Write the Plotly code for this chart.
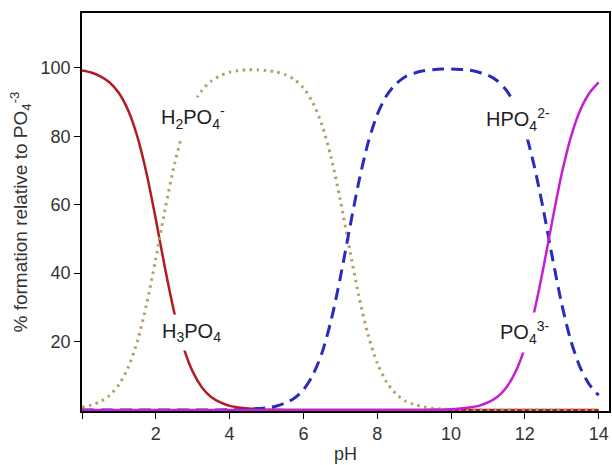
import plotly.graph_objects as go

# pH grid
ph = [i * 0.25 for i in range(57)]

# % of total phosphate present as each species
h3po4 = [99.2, 98.6, 97.5, 95.7, 92.6, 87.6, 79.9, 69.1, 55.7, 41.4, 28.5, 18.3,
         11.2, 6.6, 3.8, 2.2, 1.2, 0.7, 0.4, 0.2, 0.1, 0.1] + [0] * 35
h2po4 = [0.8, 1.4, 2.5, 4.3, 7.4, 12.4, 20.1, 30.9, 44.3, 58.6, 71.5, 81.7,
         88.8, 93.4, 96.1, 97.7, 98.7, 99.2, 99.4, 99.4, 99.2, 98.8, 98.0, 96.6,
         94.1, 89.9, 83.4, 73.8, 61.3, 47.1, 33.4, 22.0, 13.7, 8.2, 4.8, 2.7,
         1.6, 0.9, 0.5, 0.3, 0.2, 0.1, 0.1] + [0] * 14
hpo4 = [0] * 16 + [0.1, 0.1, 0.2, 0.4, 0.6, 1.1, 2.0, 3.4, 5.9, 10.1, 16.6, 26.2,
                   38.7, 52.9, 66.6, 78.0, 86.3, 91.8, 95.2, 97.3, 98.4, 99.1, 99.4,
                   99.6, 99.6, 99.5, 99.3, 98.7, 97.8, 96.2, 93.4, 88.8, 81.7, 71.5,
                   58.6, 44.3, 30.9, 20.1, 12.4, 7.4, 4.3]
po4 = [0] * 36 + [0, 0, 0.1, 0.1, 0.2, 0.4, 0.7, 1.2, 2.2, 3.8, 6.6, 11.2, 18.3,
                  28.5, 41.4, 55.7, 69.1, 79.9, 87.6, 92.6, 95.7]

x_ticks = [0, 2, 4, 6, 8, 10, 12, 14]
x_tick_text = ["", "2", "4", "6", "8", "10", "12", "14"]
y_ticks = [20, 40, 60, 80, 100]

# species labels: text, pH, % position
labels = [
    ("H<sub>2</sub>PO<sub>4</sub><sup>-</sup>", 3.0, 85.5),
    ("H<sub>3</sub>PO<sub>4</sub>", 2.97, 22.5),
    ("HPO<sub>4</sub><sup>2-</sup>", 11.82, 85.0),
    ("PO<sub>4</sub><sup>3-</sup>", 12.0, 22.5),
]

FONT = "Liberation Sans, Arial, sans-serif"

fig = go.Figure()
fig.add_trace(go.Scatter(x=ph, y=h3po4, mode="lines",
                         line=dict(color="#b31b22", width=2.5, shape="spline", smoothing=0.8)))
fig.add_trace(go.Scatter(x=ph, y=h2po4, mode="lines",
                         line=dict(color="#b3a062", width=3, dash="2.5px,4.5px",
                                   shape="spline", smoothing=0.8)))
fig.add_trace(go.Scatter(x=ph, y=hpo4, mode="lines",
                         line=dict(color="#2a2abf", width=3, dash="12px,7px",
                                   shape="spline", smoothing=0.8)))
fig.add_trace(go.Scatter(x=ph, y=po4, mode="lines",
                         line=dict(color="#c41fd2", width=2.5, shape="spline", smoothing=0.8)))

for text, xv, yv in labels:
    fig.add_annotation(x=xv, y=yv, text=text, showarrow=False,
                       bgcolor="white", borderpad=5,
                       font=dict(family=FONT, size=20, color="#222222"))

fig.update_layout(
    width=612, height=465,
    margin=dict(l=82, r=1, t=13, b=54),
    paper_bgcolor="white", plot_bgcolor="white",
    showlegend=False,
    font=dict(family=FONT, size=18, color="#333333"),
)
fig.update_xaxes(
    range=[0, 14.28], tickvals=x_ticks, ticktext=x_tick_text,
    ticks="outside", ticklen=6, tickwidth=1.2, tickcolor="black",
    showline=True, linecolor="black", linewidth=1.5, mirror=True,
    showgrid=False, zeroline=False, layer="below traces",
    title=dict(text="pH", font=dict(size=18), standoff=4),
)
fig.update_yaxes(
    range=[-0.3, 116], tickvals=y_ticks,
    ticks="outside", ticklen=6, tickwidth=1.2, tickcolor="black",
    showline=True, linecolor="black", linewidth=1.5, mirror=True,
    showgrid=False, zeroline=False, layer="below traces",
    title=dict(text="% formation relative to PO<sub>4</sub><sup>-3</sup>",
               font=dict(size=19), standoff=8),
)

fig.write_html("out.html")
